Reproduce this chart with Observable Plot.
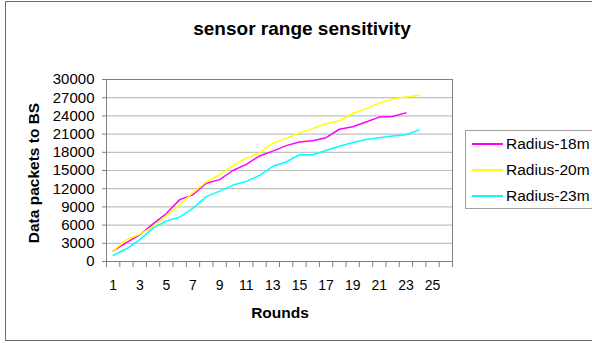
<!DOCTYPE html>
<html>
<head>
<meta charset="utf-8">
<script src="https://cdn.jsdelivr.net/npm/d3@7"></script>
<script src="https://cdn.jsdelivr.net/npm/@observablehq/plot@0.6"></script>
<style>
  html, body { margin: 0; padding: 0; background: #fff; }
  #wrap { position: relative; width: 592px; height: 343px; overflow: hidden; font-family: Arial, "Liberation Sans", sans-serif; color: #000; }
  #border { position: absolute; left: 5px; top: 1px; width: 620px; height: 340px; border: 1px solid #6e6e6e; box-sizing: border-box; }
  .lbl { position: absolute; transform: translate(-50%, -50%); white-space: nowrap; line-height: 1; font-weight: bold; }
  #chart { position: absolute; left: 0; top: 0; }
  #legend { position: absolute; left: 465px; top: 130px; width: 160px; height: 79px; border: 1px solid #a0a0a0; box-sizing: border-box; background: #fff; }
  .li { position: absolute; left: 0; width: 200px; height: 20px; }
  .li .sw { position: absolute; left: 6px; width: 31px; height: 1.5px; top: 9px; }
  .li .tx { position: absolute; left: 40px; top: 0; font-size: 15.5px; line-height: 20px; }
</style>
</head>
<body>
<div id="wrap">
  <div id="border"></div>
  <div id="chart"></div>
  <div class="lbl" style="left:302px;top:28px;font-size:19px;">sensor range sensitivity</div>
  <div class="lbl" style="left:280px;top:313px;font-size:15.5px;">Rounds</div>
  <div class="lbl" style="left:34px;top:173px;font-size:15.5px;transform:translate(-50%,-50%) rotate(-90deg);">Data packets to BS</div>
  <div id="legend"></div>
</div>
<script>
const series = ["Radius-18m", "Radius-20m", "Radius-23m"];
const colors = ["#ff00ff", "#ffff00", "#00ffff"];
const rounds = d3.range(1, 27);
const xTickLabels = [1, 3, 5, 7, 9, 11, 13, 15, 17, 19, 21, 23, 25];
const yTicks = [0, 3000, 6000, 9000, 12000, 15000, 18000, 21000, 24000, 27000, 30000];

const radius18 = [1750, 3100, 4400, 6200, 7900, 10200, 11000, 12900, 13500, 15000, 16000, 17400, 18200, 19100, 19700, 19900, 20400, 21800, 22200, 23000, 23800, 23900, 24500];
const radius20 = [1750, 3600, 4500, 5700, 7600, 9300, 11400, 13100, 14300, 15800, 17000, 17900, 19500, 20300, 21200, 21900, 22700, 23200, 24400, 25200, 26100, 26800, 27100, 27400];
const radius23 = [1000, 2100, 3600, 5500, 6700, 7300, 8800, 10700, 11600, 12600, 13200, 14200, 15700, 16400, 17600, 17600, 18300, 19000, 19600, 20100, 20400, 20700, 20900, 21700];

const valuesBySeries = [radius18, radius20, radius23];
const data = [];
series.forEach((s, i) => valuesBySeries[i].forEach((v, j) => data.push({series: s, round: rounds[j], value: v})));

// category boundaries for tick marks
const boundaries = [rounds[0] - 0.5, ...rounds.map(r => r + 0.5)];

const chart = Plot.plot({
  width: 592,
  height: 343,
  marginLeft: 106,
  marginRight: 140,
  marginTop: 79,
  marginBottom: 82,
  style: {fontFamily: 'Arial, "Liberation Sans", sans-serif', color: "#000", background: "transparent"},
  x: {domain: [boundaries[0], boundaries[boundaries.length - 1]]},
  y: {domain: [0, 30000]},
  color: {domain: series, range: colors},
  marks: [
    Plot.gridY(yTicks, {stroke: "#c0c0c0", strokeOpacity: 1, strokeWidth: 1.2}),
    Plot.frame({stroke: "#808080"}),
    Plot.axisY(yTicks, {tickSize: 4, tickPadding: 8, fontSize: 15, label: null, stroke: "#808080", fill: "#000", tickFormat: d => String(d)}),
    Plot.axisX(xTickLabels, {tickSize: 0, tickPadding: 19, fontSize: 14, label: null, fill: "#000", tickFormat: d => String(d)}),
    Plot.axisX(boundaries, {tickSize: 6, tickFormat: () => "", label: null, stroke: "#808080"}),
    Plot.lineY(data, {x: "round", y: "value", stroke: "series", z: "series", strokeWidth: 1.5})
  ]
});
document.getElementById("chart").appendChild(chart);

const legend = document.getElementById("legend");
series.forEach((s, i) => {
  const row = document.createElement("div");
  row.className = "li";
  row.style.top = (3 + i * 26) + "px";
  row.innerHTML = `<div class="sw" style="background:${colors[i]}"></div><div class="tx">${s}</div>`;
  legend.appendChild(row);
});
</script>
</body>
</html>
